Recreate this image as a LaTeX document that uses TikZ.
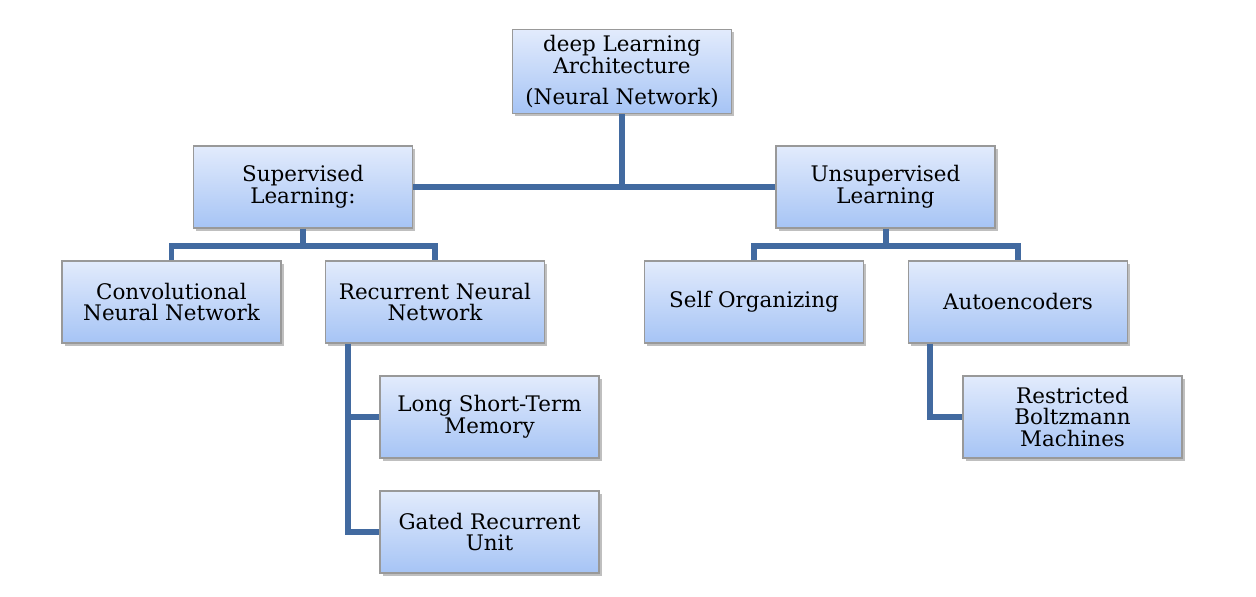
\documentclass[tikz,border=0pt]{standalone}
\usepackage{fontspec}
\setmainfont{DejaVu Serif}
\usetikzlibrary{shadows}
\definecolor{linkblue}{RGB}{66,106,160}
\definecolor{boxtop}{RGB}{226,235,252}
\definecolor{boxbot}{RGB}{166,196,245}
\tikzset{
  box/.style={draw=gray!80,line width=0.8pt,top color=boxtop,bottom color=boxbot,
    minimum width=4.38cm,minimum height=1.64cm,align=center,font=\fontsize{12.2}{12.4}\selectfont,
    drop shadow={shadow xshift=1.5pt,shadow yshift=-1.5pt,opacity=0.5}},
  link/.style={linkblue,line width=3.4pt}
}

\begin{document}
\begin{tikzpicture}
\useasboundingbox (0,0) rectangle (25.12,-11.92);
\node[box] (root) at (12.44,-1.43) {deep Learning\\Architecture\\[5pt](Neural Network)};
\node[box] (sup) at (6.06,-3.74) {Supervised\\Learning:};
\node[box] (unsup) at (17.71,-3.74) {Unsupervised\\Learning};
\node[box] (cnn) at (3.43,-6.04) {Convolutional\\Neural Network};
\node[box] (rnn) at (8.70,-6.04) {Recurrent Neural\\Network};
\node[box] (som) at (15.08,-6.04) {Self Organizing};
\node[box] (ae) at (20.36,-6.04) {Autoencoders};
\node[box] (lstm) at (9.79,-8.34) {Long Short-Term\\Memory};
\node[box] (gru) at (9.79,-10.64) {Gated Recurrent\\Unit};
\node[box] (rbm) at (21.45,-8.34) {Restricted\\Boltzmann\\Machines};

\draw[link] (sup.east) -- (unsup.west);
\draw[link] (root.south) -- (root.south |- sup.east);
\draw[link] (sup.south) -- ++(0,-0.34) coordinate (s1);
\draw[link] (cnn.north) |- (s1) -| (rnn.north);
\draw[link] (unsup.south) -- ++(0,-0.34) coordinate (u1);
\draw[link] (som.north) |- (u1) -| (ae.north);
\draw[link] ([xshift=-1.74cm]rnn.south) coordinate (r1) |- (gru.west);
\draw[link] (r1 |- lstm.west) -- (lstm.west);
\draw[link] ([xshift=-1.76cm]ae.south) |- (rbm.west);
\end{tikzpicture}
\end{document}
